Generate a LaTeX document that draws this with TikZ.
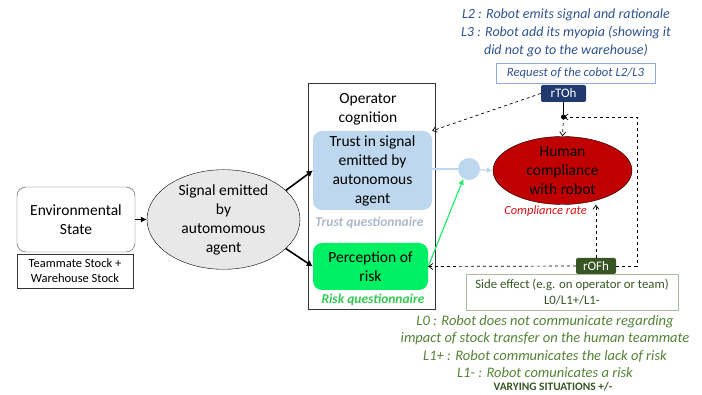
\documentclass[tikz,border=0pt]{standalone}
\usepackage{fontspec}
\setmainfont{Carlito}
\usepackage{xcolor}
\usetikzlibrary{positioning,shapes,arrows.meta}
\definecolor{trustblue}{RGB}{189,215,238}
\definecolor{riskgreen}{RGB}{0,240,100}
\definecolor{arrowgreen}{RGB}{40,235,110}
\definecolor{qgreen}{RGB}{51,200,80}
\definecolor{qblue}{RGB}{173,185,202}
\definecolor{compred}{RGB}{192,0,0}
\definecolor{ratered}{RGB}{220,20,20}
\definecolor{navy}{RGB}{32,58,112}
\definecolor{textblue}{RGB}{47,82,143}
\definecolor{reqblue}{RGB}{143,170,220}
\definecolor{darkgreen}{RGB}{55,86,35}
\definecolor{textgreen}{RGB}{84,130,53}
\definecolor{sidegray}{RGB}{170,185,160}
\begin{document}
\begin{tikzpicture}[x=1pt,y=-1pt]
      \tikzstyle{box} = [draw, rounded corners=9pt, align=center, font=\fontsize{15.5}{19}\selectfont]
      \tikzstyle{tag} = [rounded corners=2pt, text=white, font=\fontsize{13}{14}\selectfont, inner sep=0pt]
      \tikzstyle{dashline} = [dashed, line width=0.7pt, -{Straight Barb[length=4pt,width=6pt]}]
      \tikzstyle{note} = [align=center, font=\itshape\fontsize{14.5}{17.5}\selectfont]
      \useasboundingbox (0,0) rectangle (702,395);
      % ENVIRONMENT
      \node[box, draw=black!70, minimum width=118pt, minimum height=65pt] (env) at (76,219.5) {Environmental\\State};
      \node[draw=black!80, align=center, minimum width=116pt, minimum height=34pt, inner sep=1pt, font=\fontsize{12.5}{15}\selectfont] (stock) at (75,271) {Teammate Stock +\\Warehouse Stock};
      \node[ellipse, draw, fill=gray!18, minimum width=153pt, minimum height=85pt, inner sep=0pt, align=center, font=\fontsize{15.5}{19}\selectfont] (signal) at (223.5,219.5) {Signal emitted\\by\\automomous\\agent};
      % OPERATOR
      \node[draw=black!80, minimum width=127pt, minimum height=226pt] (oper) at (371.5,196) {};
      \node[align=center, font=\fontsize{15.5}{19}\selectfont] (title) at (368,109.5) {Operator\\cognition};
      \node[box, draw=none, fill=trustblue, minimum width=119pt, minimum height=79pt] (trust) at (372.5,170.5) {Trust in signal\\emitted by\\autonomous\\agent};
      \node[font=\bfseries\itshape\fontsize{13.5}{15}\selectfont, text=qblue] (tq) at (369.5,223) {Trust questionnaire};
      \node[box, draw=none, fill=riskgreen, minimum width=115pt, minimum height=47pt] (risk) at (370.5,266.5) {Perception of\\risk};
      \node[font=\bfseries\itshape\fontsize{13.5}{15}\selectfont, text=qgreen] (rq) at (373,300) {Risk questionnaire};
      % COMPLIANCE
      \node[circle, fill=trustblue, minimum size=22pt, inner sep=0pt] (join) at (469,169) {};
      \node[ellipse, draw, fill=compred, minimum width=139pt, minimum height=63pt, inner sep=0pt, align=center, font=\fontsize{15.5}{19}\selectfont] (human) at (562.5,170.5) {Human\\compliance\\with robot};
      \node[font=\itshape\fontsize{12.5}{14}\selectfont, text=ratered] (rate) at (545.5,211) {Compliance rate};
      % REQUEST
      \node[note, text=textblue, font=\itshape\fontsize{14}{18}\selectfont] (lvl23) at (566,33) {L2 : Robot emits signal and rationale\\L3 : Robot add its myopia (showing it\\did not go to the warehouse)};
      \node[draw=reqblue, line width=0.8pt, minimum width=159pt, minimum height=20pt, inner sep=0pt, font=\itshape\fontsize{12.7}{14}\selectfont, text=textblue] (req) at (575.5,73) {Request of the cobot L2/L3};
      \node[tag, fill=navy, minimum width=45pt, minimum height=17pt] (rtoh) at (563.5,93.5) {rTOh};
      \coordinate (dot) at (563.5,117);
      % SIDE EFFECT
      \node[tag, fill=darkgreen, minimum width=40pt, minimum height=16pt] (rofh) at (596,266) {rOFh};
      \node[draw=sidegray, line width=0.8pt, minimum width=212pt, minimum height=36pt, inner sep=0pt, align=center, font=\fontsize{12.8}{16}\selectfont, text=darkgreen] (side) at (572,292) {Side effect (e.g. on operator or team)\\L0/L1+/L1-};
      \node[note, text=textgreen] (lvl01) at (545,346.5) {L0 : Robot does not communicate regarding\\impact of stock transfer on the human teammate\\L1+ : Robot communicates the lack of risk\\L1- : Robot comunicates a risk};
      \node[font=\bfseries\fontsize{11.4}{13}\selectfont, text=darkgreen] (vary) at (553,387) {VARYING SITUATIONS +/-};
      % CONNECTORS
      \draw[-{Latex[length=6pt,width=6pt]}, line width=0.8pt] (env) -- (signal);
      \draw[-{Latex[length=6pt,width=7pt]}, line width=1.6pt] (signal.25) -- (trust.west);
      \draw[-{Latex[length=6pt,width=7pt]}, line width=1.6pt] (signal.-25) -- (risk.west);
      \draw[trustblue, line width=1.2pt] (trust.east |- join) -- (join);
      \draw[trustblue, line width=1.2pt, -{Latex[length=6pt,width=6pt]}] (join) -- (human.west);
      \draw[arrowgreen, line width=1.2pt, -{Latex[length=6pt,width=6pt]}] (risk.east) -- (join.-120);
      \draw[dashline] (rtoh.west) -- (trust.north east);
      \draw[line width=0.7pt] (rtoh.south) -- (dot);
      \fill (dot) circle (2.5pt);
      \draw[dashline] (dot) -- (human.north);
      \draw[dashline] (rofh.east) -| (637,117) -- (dot);
      \draw[dashline] (rofh.north) -- (rofh.north |- human.south);
      \draw[dashline] (rofh.west) -- (risk.east);
    \end{tikzpicture}
\end{document}
